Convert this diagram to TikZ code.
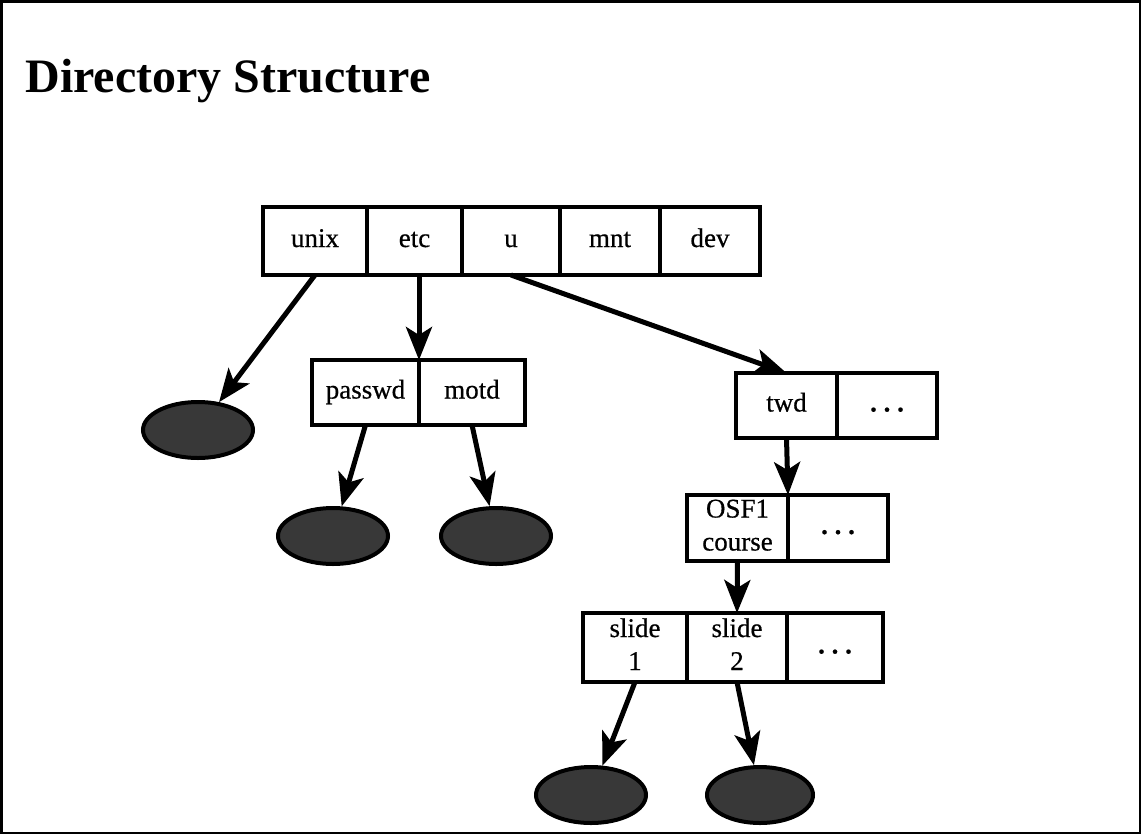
\documentclass[tikz,border=0pt]{standalone}
\usepackage{fontspec}
\setmainfont{Liberation Serif}
\newfontfamily\cellfont[FakeBold=0.6]{Liberation Serif}
\usetikzlibrary{positioning,shapes.geometric,arrows.meta}

\begin{document}
\begin{tikzpicture}[x=1pt,y=-1pt,
  cell/.style={draw, line width=4pt, outer sep=0pt, inner sep=0pt,
    minimum width=100pt, minimum height=66pt, align=center,
    text height=19pt, text depth=7pt,
    font=\cellfont\fontsize{27}{33}\selectfont},
  twoline/.style={text height=52pt},
  leaf/.style={ellipse, draw, line width=4pt, fill=black!78,
    minimum width=110pt, minimum height=56pt, inner sep=0pt},
  link/.style={line width=5pt, -{Stealth[length=33pt,width=26pt,inset=8pt]}}]
  \useasboundingbox (0,0) rectangle (1142,836);
  \draw[line width=2.5pt] (1.5,1.5) rectangle (1140,833);
  \node[anchor=base west, font=\fontsize{48}{52}\selectfont\bfseries] (title) at (22,92) {Directory Structure};

  % root directory, one cell per entry
  \node[cell, minimum width=104pt, minimum height=68pt] (unix) at (315,241) {unix};
  \node[cell, minimum width=95pt, minimum height=68pt, right=0pt of unix] (etc) {etc};
  \node[cell, minimum width=98pt, minimum height=68pt, right=0pt of etc] (u) {u};
  \node[cell, minimum height=68pt, right=0pt of u] (mnt) {mnt};
  \node[cell, minimum height=68pt, right=0pt of mnt] (dev) {dev};

  \node[cell, minimum width=107pt, minimum height=65pt] (passwd) at (365.5,392.5) {passwd};
  \node[cell, minimum width=106pt, minimum height=65pt, right=0pt of passwd] (motd) {motd};

  \node[cell, minimum width=101pt, minimum height=65pt] (twd) at (786.5,405.5) {twd};
  \node[cell, minimum height=65pt, right=0pt of twd] (twddots) {\bfseries .\ .\ .};

  \node[cell, twoline, minimum width=101pt] (osf) at (737.5,528) {OSF1\\course};
  \node[cell, right=0pt of osf] (osfdots) {\bfseries .\ .\ .};

  \node[cell, twoline, minimum width=104pt, minimum height=69pt] (slideone) at (635,647.5) {slide\\1};
  \node[cell, twoline, minimum height=69pt, right=0pt of slideone] (slidetwo) {slide\\2};
  \node[cell, minimum width=96pt, minimum height=69pt, right=0pt of slidetwo] (slidedots) {\bfseries .\ .\ .};

  % plain files
  \node[leaf] (leafunix) at (198,430) {};
  \node[leaf] (leafpasswd) at (333,536) {};
  \node[leaf] (leafmotd) at (496,536) {};
  \node[leaf] (leafsone) at (591,795) {};
  \node[leaf, minimum width=106pt] (leafstwo) at (760,795) {};

  \draw[link] (unix.south) -- (leafunix);
  \draw[link] (etc.south -| passwd.north east) -- (passwd.north east);
  \draw[link] (u.south) -- (twd.north);
  \draw[link] (passwd.south) -- (leafpasswd);
  \draw[link] (motd.south) -- (leafmotd);
  \draw[link] (twd.south) -- (osf.north east);
  \draw[link] (osf.south) -- (slidetwo.north);
  \draw[link] (slideone.south) -- (leafsone);
  \draw[link] (slidetwo.south) -- (leafstwo);
\end{tikzpicture}
\end{document}
